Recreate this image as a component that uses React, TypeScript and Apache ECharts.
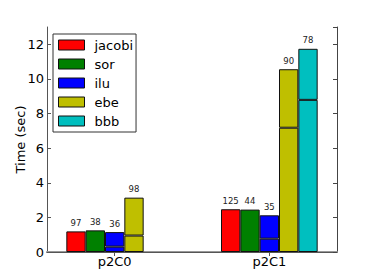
import React, { useEffect, useRef } from "react";
import * as echarts from "echarts";

const categories = ["p2C0", "p2C1"];
const methods = ["jacobi", "sor", "ilu", "ebe", "bbb"];
const methodColors = ["#ff0000", "#008000", "#0000ff", "#bfbf00", "#00bfbf"];

// total time (sec) per category, and the lower (setup) part of each stacked bar
const jacobiTotal = [1.19, 2.47];
const jacobiSetup = [0, 0];
const sorTotal = [1.25, 2.45];
const sorSetup = [0, 0];
const iluTotal = [1.15, 2.12];
const iluSetup = [0.31, 0.77];
const ebeTotal = [3.14, 10.56];
const ebeSetup = [0.95, 7.18];
const bbbTotal = [0, 11.74];
const bbbSetup = [0, 8.79];

// iteration counts printed above bars
const jacobiIters = [97, 125];
const sorIters = [38, 44];
const iluIters = [36, 35];
const ebeIters = [98, 90];
const bbbIters = [null, 78];

const yTicks = [0, 2, 4, 6, 8, 10, 12];

const totals = [jacobiTotal, sorTotal, iluTotal, ebeTotal, bbbTotal];
const setups = [jacobiSetup, sorSetup, iluSetup, ebeSetup, bbbSetup];
const iters = [jacobiIters, sorIters, iluIters, ebeIters, bbbIters];

const NBINS = 15;
const binOf = (cat: number, m: number) => 1 + 8 * cat + m;
const labelBin = (cat: number) => 3 + 8 * cat;

const FONT = "DejaVu Sans";

export default function App() {
  const ref = useRef<HTMLDivElement>(null);
  useEffect(() => {
    if (!ref.current) return;
    const chart = echarts.init(ref.current, undefined, { renderer: "svg" });
    const xCats: string[] = [];
    for (let i = 0; i < NBINS; i++) xCats.push("");
    categories.forEach((c, i) => (xCats[labelBin(i)] = c));
    const isLabelBin = (idx: number) => categories.some((_, i) => labelBin(i) === idx);

    const series: any[] = [];
    methods.forEach((m, j) => {
      const lower: any[] = new Array(NBINS).fill(null);
      const upper: any[] = new Array(NBINS).fill(null);
      categories.forEach((_, i) => {
        const tot = totals[j][i];
        const low = setups[j][i];
        if (!tot) return;
        const b = binOf(i, j);
        lower[b] = low > 0 ? low : null;
        upper[b] = { value: low > 0 ? tot - low : tot, iters: iters[j][i] };
      });
      const common = {
        type: "bar",
        name: m,
        stack: m,
        barGap: "-100%",
        barCategoryGap: "0%",
        itemStyle: { color: methodColors[j], borderColor: "#111", borderWidth: 1 },
      };
      series.push({ ...common, data: lower });
      series.push({
        ...common,
        data: upper,
        label: {
          show: true,
          position: "top",
          distance: 4,
          fontSize: 8.5,
          fontFamily: FONT,
          color: "#222",
          formatter: (p: any) => (p.data && p.data.iters != null ? String(p.data.iters) : ""),
        },
      });
    });

    chart.setOption({
      animation: false,
      backgroundColor: "#ffffff",
      grid: { left: 47, right: 37, top: 27, bottom: 28, containLabel: false },
      legend: {
        data: methods,
        orient: "vertical",
        left: 53,
        top: 34,
        padding: [3, 3, 3, 5],
        itemGap: 3,
        itemWidth: 26,
        itemHeight: 10,
        icon: "rect",
        borderColor: "#333",
        borderWidth: 1,
        backgroundColor: "#fff",
        itemStyle: { borderColor: "#111", borderWidth: 1 },
        textStyle: { fontFamily: FONT, fontSize: 13, color: "#000", lineHeight: 16, padding: [0, 0, 0, 5] },
      },
      xAxis: [
        {
          type: "category",
          data: xCats,
          position: "bottom",
          axisLine: { show: true, lineStyle: { color: "#999", width: 2 } },
          axisTick: { show: true, inside: true, length: 4, alignWithLabel: true, interval: (idx: number) => isLabelBin(idx), lineStyle: { color: "#333" } },
          axisLabel: { interval: 0, margin: 3, fontFamily: FONT, fontSize: 13, color: "#000" },
        },
        {
          type: "category",
          data: xCats,
          position: "top",
          axisLine: { show: true, lineStyle: { color: "#555", width: 1 } },
          axisTick: { show: true, inside: true, length: 4, alignWithLabel: true, interval: (idx: number) => isLabelBin(idx), lineStyle: { color: "#555" } },
          axisLabel: { show: false },
        },
      ],
      yAxis: [
        {
          type: "value",
          min: 0,
          max: 13,
          interval: 2,
          name: "Time (sec)",
          nameLocation: "middle",
          nameGap: 20,
          nameMoveOverlap: false,
          nameTextStyle: { fontFamily: FONT, fontSize: 13, color: "#000" },
          axisLine: { show: true, lineStyle: { color: "#555" } },
          axisTick: { show: true, inside: true, length: 4, lineStyle: { color: "#555" } },
          splitLine: { show: false },
          axisLabel: {
            margin: 3,
            fontFamily: FONT,
            fontSize: 13,
            color: "#000",
            showMaxLabel: false,
            formatter: (v: number) => (yTicks.includes(v) ? String(v) : ""),
          },
        },
        {
          type: "value",
          min: 0,
          max: 13,
          interval: 2,
          position: "right",
          axisLine: { show: true, lineStyle: { color: "#444" } },
          axisTick: { show: true, inside: true, length: 4, lineStyle: { color: "#444" } },
          splitLine: { show: false },
          axisLabel: { show: false },
        },
      ],
      series,
    });
    return () => chart.dispose();
  }, []);
  return <div ref={ref} style={{ width: 374, height: 280, margin: -8 }} />;
}
